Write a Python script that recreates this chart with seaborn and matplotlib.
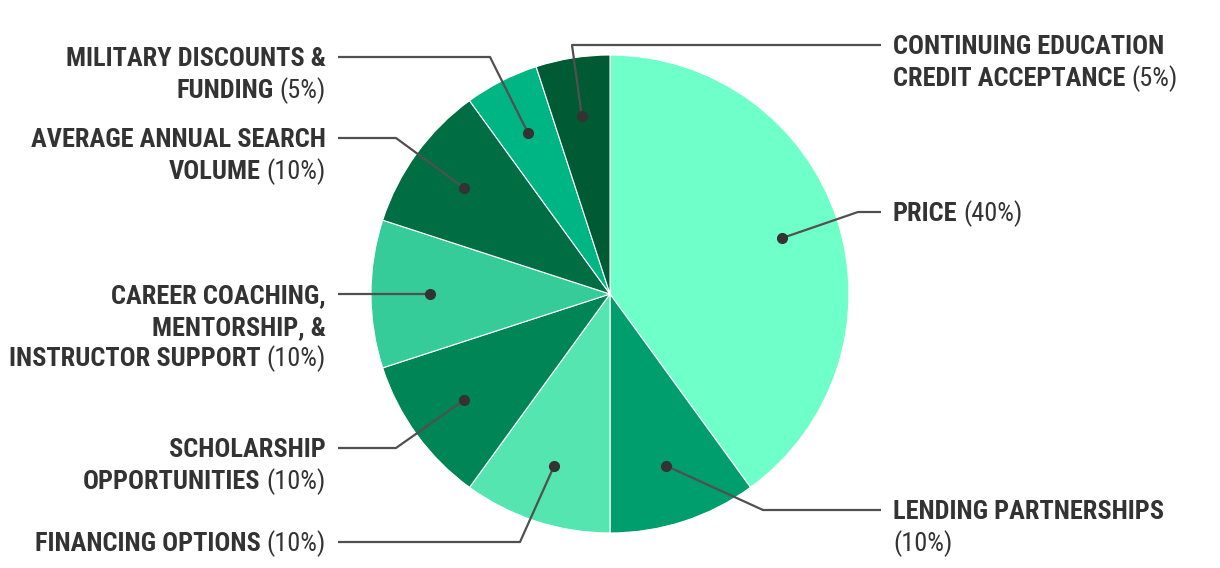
import matplotlib
matplotlib.use("Agg")
import matplotlib.pyplot as plt
import numpy as np
import seaborn as sns

# data (clockwise from 12 o'clock)
categories = [
    "PRICE",
    "LENDING PARTNERSHIPS",
    "FINANCING OPTIONS",
    "SCHOLARSHIP\nOPPORTUNITIES",
    "CAREER COACHING,\nMENTORSHIP, &\nINSTRUCTOR SUPPORT",
    "AVERAGE ANNUAL SEARCH\nVOLUME",
    "MILITARY DISCOUNTS &\nFUNDING",
    "CONTINUING EDUCATION\nCREDIT ACCEPTANCE",
]
shares = [40, 10, 10, 10, 10, 10, 5, 5]
colors = ["#6fffc8", "#009e6c", "#54e5b0", "#008556",
          "#35cc99", "#006d42", "#00b584", "#005a33"]

# label layout: side, first line y (px from top), elbow of leader line
layout = [
    ("right", 212, (858, 212)),
    ("right", 510, (763, 510)),
    ("left", 542, (520, 542)),
    ("left", 448, (396, 448)),
    ("left", 294, None),
    ("left", 138, (396, 138)),
    ("left", 57, (490, 57)),
    ("right", 45, (572, 45)),
]
pct_own_line = [False, True, False, False, False, False, False, False]

sns.set_theme(style="white")
plt.rcParams["font.family"] = ["Roboto Condensed", "Roboto", "DejaVu Sans"]

W, H = 1220, 568
TEXT = "#333333"
LINE = "#505050"
FS = 19
LH = 31.5
CAP = 0.711 * FS * 100 / 72

fig = plt.figure(figsize=(W / 100, H / 100), dpi=100)
ax = fig.add_axes([0, 0, 1, 1])

cx, cy, r = 610, H - 294, 239
wedges, _ = ax.pie(shares, colors=sns.color_palette(colors), startangle=90,
                   counterclock=False, center=(cx, cy), radius=r,
                   wedgeprops=dict(edgecolor="white", linewidth=0.8))
ax.set_xlim(0, W)
ax.set_ylim(0, H)
ax.set_aspect("equal")
ax.axis("off")

renderer = fig.canvas.get_renderer()


def width(t):
    return t.get_window_extent(renderer).width


x_left, x_right = 326, 893
for w, name, share, (side, y0, elbow), own in zip(
        wedges, categories, shares, layout, pct_own_line):
    # dot inside the slice
    mid = np.deg2rad((w.theta1 + w.theta2) / 2)
    dx = cx + 0.755 * r * np.cos(mid)
    dy = cy + 0.755 * r * np.sin(mid)

    end_x = x_left + 12 if side == "left" else x_right - 12
    if elbow is None:
        xs, ys = [dx, end_x], [dy, dy]
    else:
        xs = [dx, elbow[0], end_x]
        ys = [dy, H - elbow[1], H - elbow[1]]
    ax.plot(xs, ys, color=LINE, lw=1.6, solid_capstyle="butt", zorder=3)
    ax.plot(dx, dy, "o", color=TEXT, ms=7, zorder=4)

    lines = name.split("\n")
    pct = f"({share}%)"
    if own:
        lines = lines + [""]
    for i, line in enumerate(lines):
        base = H - (y0 + i * LH + CAP / 2)
        last = i == len(lines) - 1
        if side == "right":
            tb = ax.text(x_right, base, line, ha="left", va="baseline",
                         fontsize=FS, fontweight="bold", color=TEXT)
            if last:
                off = width(tb) + 6 if line else 0
                ax.text(x_right + off, base, pct, ha="left", va="baseline",
                        fontsize=FS, color=TEXT)
        else:
            if last:
                tp = ax.text(x_left, base, pct, ha="right", va="baseline",
                             fontsize=FS, color=TEXT)
                ax.text(x_left - width(tp) - 6, base, line, ha="right",
                        va="baseline", fontsize=FS, fontweight="bold", color=TEXT)
            else:
                ax.text(x_left, base, line, ha="right", va="baseline",
                        fontsize=FS, fontweight="bold", color=TEXT)

plt.savefig("out.png", dpi=100)
